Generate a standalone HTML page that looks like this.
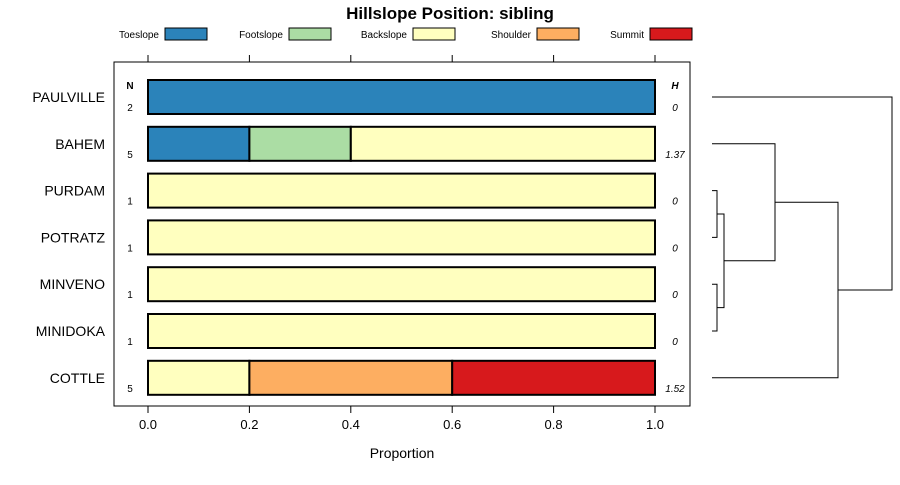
<!DOCTYPE html>
<html><head><meta charset="utf-8"><style>
body{margin:0;background:#fff}
svg{font-family:"Liberation Sans",sans-serif}
</style></head><body>
<svg width="900" height="480">
<text x="450" y="19" text-anchor="middle" font-weight="bold" font-size="17">Hillslope Position: sibling</text>
<g id="legend"></g>
<rect x="114" y="62" width="576" height="344" fill="none" stroke="#000"/>
<g id="axes"></g>
<g id="bars"></g>
<text x="130" y="89" text-anchor="middle" font-size="10" font-weight="bold">N</text>
<text x="675" y="89" text-anchor="middle" font-size="10" font-weight="bold" font-style="italic">H</text>
<text x="402" y="458" text-anchor="middle" font-size="14">Proportion</text>
<g id="dendro" fill="none" stroke="#000"></g>
</svg>
<script>
const categories=["Toeslope","Footslope","Backslope","Shoulder","Summit"];
const colors=["#2b83ba","#abdda4","#ffffbf","#fdae61","#d7191c"];
const rows=["PAULVILLE","BAHEM","PURDAM","POTRATZ","MINVENO","MINIDOKA","COTTLE"];
const counts=[2,5,1,1,1,1,5];
const entropy=["0","1.37","0","0","0","0","1.52"];
const props=[[1,0,0,0,0],[0.2,0.2,0.6,0,0],[0,0,1,0,0],[0,0,1,0,0],[0,0,1,0,0],[0,0,1,0,0],[0,0,0.2,0.4,0.4]];
const ticks=[0,0.2,0.4,0.6,0.8,1.0];
const NS="http://www.w3.org/2000/svg";
const xs=v=>148+v*507;
const ys=i=>97+i*46.8;
function mk(p,t,a){const e=document.createElementNS(NS,t);for(const k in a)e.setAttribute(k,a[k]);p.appendChild(e);return e;}
const leg=document.getElementById('legend');
const lx=[165,289,413,537,650];
categories.forEach((c,i)=>{
 const t=mk(leg,'text',{x:lx[i]-6,y:38,'text-anchor':'end','font-size':10});t.textContent=c;
 
 
 const r=mk(leg,'rect',{x:lx[i],y:28,width:42,height:12,fill:colors[i],stroke:'#000'});
 
 
});
const ax=document.getElementById('axes');
ticks.forEach(t=>{
 const x=xs(t);
 const l1=mk(ax,'line',{x1:x,x2:x,y1:406,y2:413,stroke:'#000'});
 
 
 const l2=mk(ax,'line',{x1:x,x2:x,y1:55,y2:62,stroke:'#000'});
 
 
 const tx=mk(ax,'text',{x:x,y:429,'text-anchor':'middle','font-size':13});tx.textContent=t.toFixed(1);
 
 
});
const bars=document.getElementById('bars');
rows.forEach((r,i)=>{
 const y=ys(i);
 const lab=mk(bars,'text',{x:105,y:y+5,'text-anchor':'end','font-size':14});lab.textContent=r;
 
 
 let cum=0;
 props[i].forEach((p,j)=>{
  if(p<=0)return;
  const b=mk(bars,'rect',{x:xs(cum),y:y-17,width:xs(cum+p)-xs(cum),height:34,fill:colors[j],stroke:'#000','stroke-width':2});
  
  
  cum+=p;
 });
 const n=mk(bars,'text',{x:130,y:y+14,'text-anchor':'middle','font-size':10});n.textContent=counts[i];
 
 
 const h=mk(bars,'text',{x:675,y:y+14,'text-anchor':'middle','font-size':10,'font-style':'italic'});h.textContent=entropy[i];
 
 
});
// dendrogram: merges [left,right,height]
const merges=[[2,3,717],[4,5,717],["a","b",724],[1,"c",775],[6,"d",838],[0,"e",892]];
const ids=["a","b","c","d","e","f"];
const node={};rows.forEach((r,i)=>node[i]={y:ys(i),x:712});
const dg=document.getElementById('dendro');
merges.forEach((m,k)=>{
 const A=node[m[0]],B=node[m[1]],h=m[2];
 const p=mk(dg,'path',{d:`M${A.x},${A.y}H${h}V${B.y}H${B.x}`});
 
 
 node[ids[k]]={x:h,y:(A.y+B.y)/2};
});
</script>
</body></html>
